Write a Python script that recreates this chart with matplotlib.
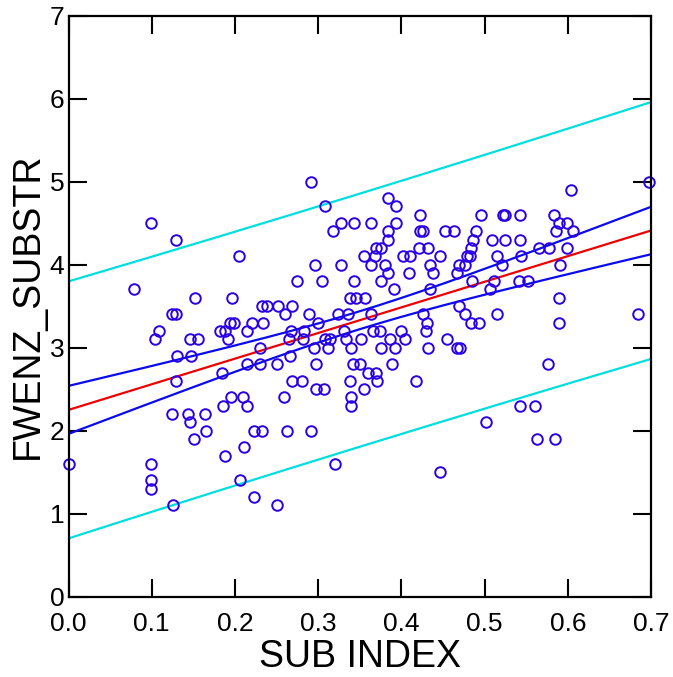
import numpy as np
import matplotlib
matplotlib.use("Agg")
import matplotlib.pyplot as plt

# SUB INDEX values, grouped by their FWENZ_SUBSTR level
rows = {
    5.0: [0.291, 0.698],
    4.9: [0.604],
    4.8: [0.384],
    4.7: [0.308, 0.394],
    4.6: [0.422, 0.496, 0.522, 0.524, 0.543, 0.583],
    4.5: [0.099, 0.328, 0.343, 0.363, 0.394, 0.589, 0.599],
    4.4: [0.318, 0.384, 0.422, 0.426, 0.453, 0.463, 0.490, 0.586, 0.606],
    4.3: [0.129, 0.384, 0.486, 0.509, 0.525, 0.543],
    4.2: [0.370, 0.376, 0.421, 0.432, 0.484, 0.566, 0.577, 0.599],
    4.1: [0.205, 0.355, 0.368, 0.402, 0.410, 0.446, 0.479, 0.483, 0.515, 0.544],
    4.0: [0.296, 0.328, 0.364, 0.380, 0.434, 0.469, 0.477, 0.521, 0.591],
    3.9: [0.384, 0.409, 0.438, 0.467],
    3.8: [0.275, 0.305, 0.343, 0.375, 0.485, 0.511, 0.541, 0.552],
    3.7: [0.079, 0.391, 0.435, 0.507],
    3.6: [0.152, 0.197, 0.338, 0.346, 0.356, 0.589],
    3.5: [0.232, 0.239, 0.252, 0.269, 0.469],
    3.4: [0.124, 0.129, 0.260, 0.289, 0.324, 0.336, 0.364, 0.426, 0.477, 0.515, 0.684],
    3.3: [0.194, 0.199, 0.221, 0.234, 0.300, 0.431, 0.484, 0.493, 0.589],
    3.2: [0.109, 0.182, 0.188, 0.215, 0.267, 0.283, 0.331, 0.366, 0.374, 0.399, 0.430],
    3.1: [0.104, 0.146, 0.156, 0.192, 0.265, 0.282, 0.308, 0.314, 0.334, 0.352, 0.386, 0.404, 0.455],
    3.0: [0.230, 0.295, 0.312, 0.339, 0.376, 0.392, 0.432, 0.467, 0.471],
    2.9: [0.130, 0.147, 0.266],
    2.8: [0.215, 0.230, 0.250, 0.297, 0.342, 0.350, 0.389, 0.576],
    2.7: [0.185, 0.360, 0.370],
    2.6: [0.129, 0.268, 0.281, 0.338, 0.371, 0.418],
    2.5: [0.297, 0.307, 0.355],
    2.4: [0.195, 0.210, 0.259, 0.340],
    2.3: [0.186, 0.214, 0.339, 0.542, 0.561],
    2.2: [0.124, 0.144, 0.164],
    2.1: [0.146, 0.502],
    2.0: [0.165, 0.223, 0.233, 0.262, 0.292],
    1.9: [0.151, 0.563, 0.585],
    1.8: [0.211],
    1.7: [0.188],
    1.6: [0.0, 0.099, 0.320],
    1.5: [0.446],
    1.4: [0.099, 0.206],
    1.3: [0.099],
    1.2: [0.223],
    1.1: [0.126, 0.250],
}

sub_index = np.array([x for lvl in rows for x in rows[lvl]])
fwenz = np.array([lvl for lvl in rows for x in rows[lvl]])

# linear fit with 95% confidence and prediction bands
n = len(sub_index)
xm = sub_index.mean()
sxx = ((sub_index - xm) ** 2).sum()
b1 = ((sub_index - xm) * (fwenz - fwenz.mean())).sum() / sxx
b0 = fwenz.mean() - b1 * xm
s = np.sqrt(((fwenz - (b0 + b1 * sub_index)) ** 2).sum() / (n - 2))
t = 1.972

xs = np.linspace(0, 0.7, 200)
yfit = b0 + b1 * xs
ci = t * s * np.sqrt(1 / n + (xs - xm) ** 2 / sxx)
pi = t * s * np.sqrt(1 + 1 / n + (xs - xm) ** 2 / sxx)

plt.rcParams['font.family'] = ['Liberation Sans', 'DejaVu Sans']
fig = plt.figure(figsize=(6.73, 6.77), dpi=100)
ax = fig.add_axes([0.1018, 0.1186, 0.8655, 0.8585])

ax.plot(xs, yfit + pi, color='#00dede', lw=1.6)
ax.plot(xs, yfit - pi, color='#00dede', lw=1.6)
ax.plot(xs, yfit + ci, color='#0a0aee', lw=1.6)
ax.plot(xs, yfit - ci, color='#0a0aee', lw=1.6)
ax.plot(xs, yfit, color='#ee0000', lw=1.6)
ax.plot(sub_index, fwenz, 'o', mfc='none', mec='#2a00e6', ms=7.6, mew=1.4,
        clip_on=False)

ax.set_xlim(0, 0.7)
ax.set_ylim(0, 7)
ax.set_xticks(np.arange(0, 0.71, 0.1))
ax.set_xticklabels(['0.0', '0.1', '0.2', '0.3', '0.4', '0.5', '0.6', '0.7'])
ax.set_yticks(range(8))
ax.tick_params(direction='in', length=13, width=1.5, labelsize=19,
               top=True, right=True)
ax.tick_params(axis='x', pad=11)
ax.tick_params(axis='y', pad=3)
for sp in ax.spines.values():
    sp.set_linewidth(1.6)

ax.set_xlabel('SUB INDEX', fontsize=27, labelpad=2)
ax.set_ylabel('FWENZ_SUBSTR', fontsize=27, labelpad=3)

fig.savefig('out.png', dpi=100)
